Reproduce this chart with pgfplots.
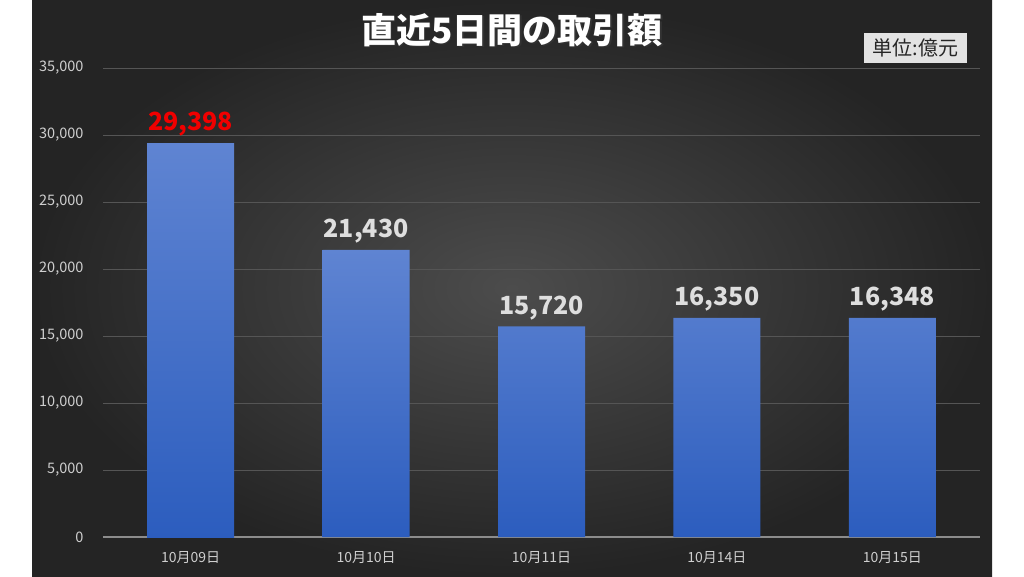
\documentclass[border=0pt]{standalone}
\usepackage{pgfplots}
\pgfplotsset{compat=1.18}
\usepackage{fontspec}
\setmainfont{Noto Sans CJK JP}
\definecolor{bgin}{HTML}{4C4C4C}
\definecolor{bgout}{HTML}{242424}
\definecolor{bartop}{HTML}{5F84D2}
\definecolor{barbot}{HTML}{2C5DBE}
\definecolor{gridc}{HTML}{555555}
\definecolor{basec}{HTML}{8C8C8C}
\definecolor{tickc}{HTML}{CFCFCF}
\definecolor{labc}{HTML}{DEDEDE}
\definecolor{redc}{HTML}{F00000}
\definecolor{boxc}{HTML}{E3E3E3}
\definecolor{boxt}{HTML}{262626}
\begin{document}
\begin{tikzpicture}
\fill[white] (0,0) rectangle (1024pt,576pt);
\shade[inner color=bgin, outer color=bgout] (32pt,0) rectangle (992pt,576pt);
\begin{axis}[
  at={(103pt,39pt)}, anchor=south west,
  scale only axis, width=877pt, height=469pt,
  xmin=-0.5, xmax=4.5, ymin=0, ymax=35000,
  ytick={0,5000,...,35000},
  scaled y ticks=false,
  xtick={0,1,2,3,4},
  xticklabels={10月09日,10月10日,10月11日,10月14日,10月15日},
  axis line style={draw=none},
  major tick length=0pt,
  ymajorgrids, grid style={color=gridc, line width=0.7pt},
  extra y ticks={0}, extra y tick labels={},
  extra y tick style={grid style={color=basec, line width=1.2pt}},
  /pgf/number format/1000 sep={,},
  /pgf/number format/assume math mode=true,
  yticklabel style={text=tickc, font=\fontsize{14.5}{16}\selectfont, xshift=-16pt},
  xticklabel style={text=tickc, font=\fontsize{14}{16}\selectfont, yshift=-11pt},
  nodes near coords,
  nodes near coords style={font=\bfseries\fontsize{25}{30}\selectfont, anchor=south, yshift=3pt},
  clip=false,
]
\addplot[ybar, bar width=87pt, bar shift=0pt, draw=none, top color=bartop, bottom color=barbot,
  nodes near coords style={text=redc}]
  coordinates {(0,29398)};
\addplot[ybar, bar width=87pt, bar shift=0pt, draw=none, top color=bartop, bottom color=barbot,
  nodes near coords style={text=labc}]
  coordinates {(1,21430) (2,15720) (3,16350) (4,16348)};
\end{axis}
\node[text=black!80, font=\bfseries\fontsize{35}{40}\selectfont] at (513.5pt,544.5pt) {直近5日間の取引額};
\node[text=white, font=\bfseries\fontsize{35}{40}\selectfont] at (512pt,546pt) {直近5日間の取引額};
\node[fill=boxc, text=boxt, font=\fontsize{20}{22}\selectfont, minimum width=103pt, minimum height=30pt, inner sep=0pt] at (915.5pt,528pt) {単位:億元};
\end{tikzpicture}
\end{document}
